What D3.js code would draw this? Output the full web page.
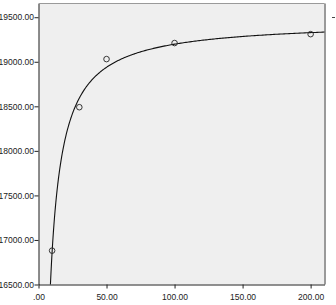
<!DOCTYPE html>
<html>
<head>
<meta charset="utf-8">
<script src="https://cdn.jsdelivr.net/npm/d3@7"></script>
<style>
  body { margin: 0; background: #fff; }
  .tick text { font-family: "Liberation Sans", Arial, sans-serif; font-size: 8.5px; fill: #222; }
  .domain, .tick line { stroke: #222; }
</style>
</head>
<body>
<svg id="chart" width="336" height="305"></svg>
<script>
// observed points
var xVals = [10, 30, 50, 100, 200];
var yVals = [16880, 18490, 19030, 19210, 19310];

var xTicks = [0, 50, 100, 150, 200];
var yTicks = [16500, 17000, 17500, 18000, 18500, 19000, 19500];

var svg = d3.select("#chart");
var plotLeft = 38.5, plotRight = 324.5, plotTop = 3.5, plotBottom = 284.5;

var xScale = d3.scaleLinear().domain([0, 210.2]).range([plotLeft, plotRight]);
var yScale = d3.scaleLinear().domain([16500, 19654]).range([plotBottom, plotTop]);

// plot background
svg.append("rect")
    .attr("x", plotLeft).attr("y", plotTop)
    .attr("width", plotRight - plotLeft).attr("height", plotBottom - plotTop)
    .attr("fill", "#efefef");

// top and right frame
svg.append("line").attr("x1", plotLeft).attr("x2", plotRight).attr("y1", plotTop).attr("y2", plotTop)
    .attr("stroke", "#9a9a9a").attr("stroke-width", 1);
svg.append("line").attr("x1", plotRight + 0.5).attr("x2", plotRight + 0.5).attr("y1", plotTop).attr("y2", plotBottom)
    .attr("stroke", "#9a9a9a").attr("stroke-width", 2);

// inverse model fit y = a + b/x (least squares)
var u = xVals.map(function(d){ return 1 / d; });
var mu = d3.mean(u), my = d3.mean(yVals);
var sxy = 0, sxx = 0;
u.forEach(function(d, i){
    sxy += (d - mu) * (yVals[i] - my);
    sxx += (d - mu) * (d - mu);
});
var b = sxy / sxx, a = my - b * mu;

var xStart = b / (16500 - a);
var curve = d3.range(0, 301).map(function(i){
    var x = xStart + (210.2 - xStart) * Math.pow(i / 300, 2);
    return [x, a + b / x];
});

svg.append("path")
    .datum(curve)
    .attr("fill", "none")
    .attr("stroke", "#111")
    .attr("stroke-width", 1.1)
    .attr("d", d3.line()
        .x(function(d){ return xScale(d[0]); })
        .y(function(d){ return yScale(d[1]); }));

// points
svg.selectAll("circle.pt")
    .data(xVals)
    .enter()
    .append("circle")
    .attr("class", "pt")
    .attr("cx", function(d){ return xScale(d); })
    .attr("cy", function(d, i){ return yScale(yVals[i]); })
    .attr("r", 2.8)
    .attr("fill", "none")
    .attr("stroke", "#222")
    .attr("stroke-width", 0.9);

// axes
var xAxis = d3.axisBottom(xScale)
    .tickValues(xTicks)
    .tickSize(4)
    .tickSizeOuter(0)
    .tickFormat(function(d){ return d === 0 ? ".00" : d3.format(".2f")(d); });
svg.append("g")
    .attr("transform", "translate(0," + plotBottom + ")")
    .call(xAxis)
    .selectAll("text").attr("dy", "0.95em");

var yAxis = d3.axisLeft(yScale)
    .tickValues(yTicks)
    .tickSize(4)
    .tickSizeOuter(0)
    .tickFormat(d3.format(".2f"));
svg.append("g")
    .attr("transform", "translate(" + plotLeft + ",0)")
    .call(yAxis)
    .selectAll("text").attr("dx", "0.3em");

// stray legend mark at right edge
svg.append("line").attr("x1", 332).attr("x2", 335).attr("y1", 17.5).attr("y2", 17.5)
    .attr("stroke", "#444").attr("stroke-width", 1);
</script>
</body>
</html>
